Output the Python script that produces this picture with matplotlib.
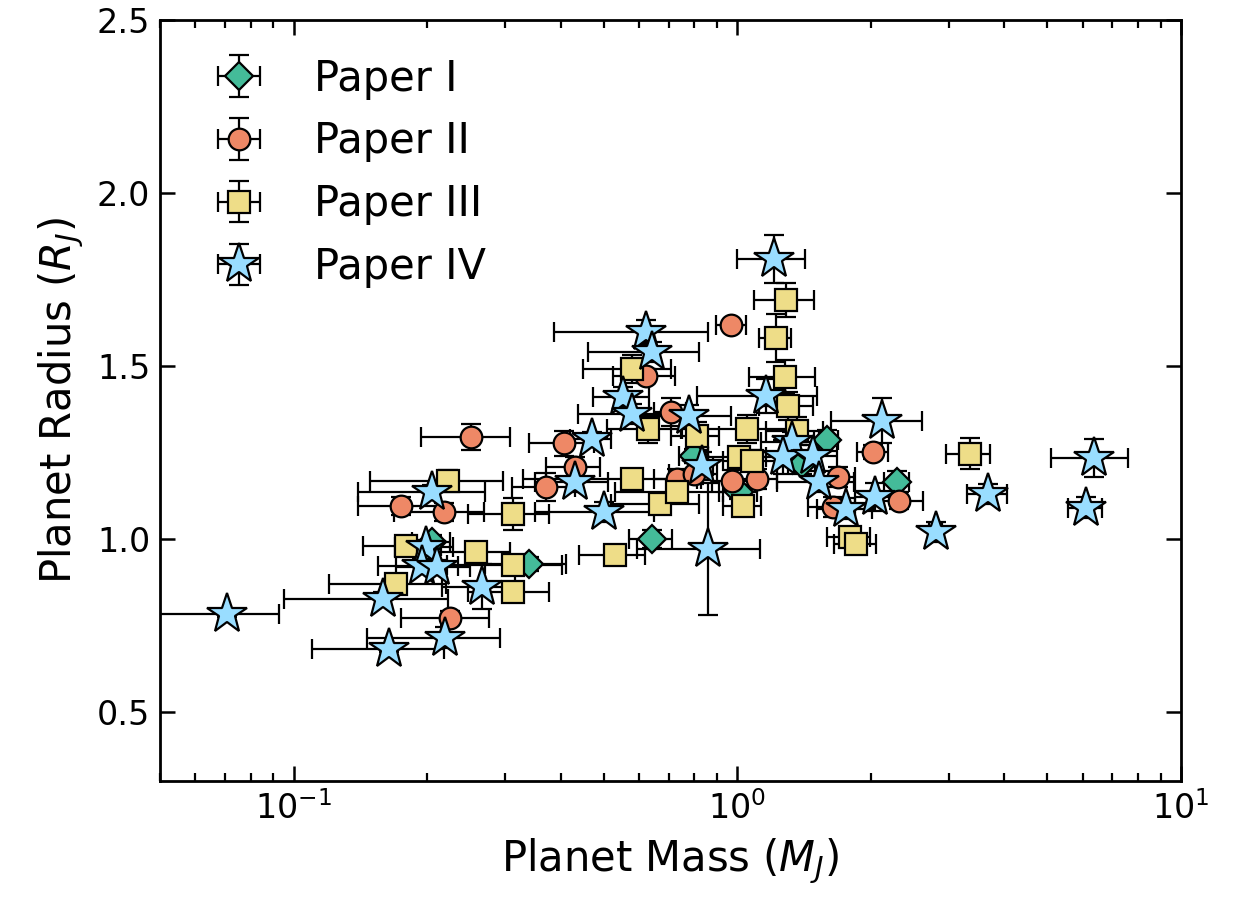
import matplotlib
matplotlib.use("Agg")
import matplotlib.pyplot as plt

# Paper I (diamonds)
p1_mass = [0.641, 0.34, 1.59, 2.29, 1.01, 0.80, 1.40, 0.205]
p1_mass_err = [0.07, 0.07, 0.10, 0.15, 0.10, 0.06, 0.10, 0.02]
p1_rad = [1.00, 0.928, 1.285, 1.165, 1.136, 1.24, 1.217, 0.99]
p1_rad_err = [0.025, 0.02, 0.03, 0.03, 0.02, 0.02, 0.03, 0.02]

# Paper II (circles)
p2_mass = [0.97, 0.624, 0.708, 0.251, 0.407, 0.43, 0.371, 0.175, 0.218, 0.225,
           0.73, 0.80, 0.975, 1.107, 1.69, 2.02, 2.32, 1.64]
p2_mass_err = [0.075, 0.10, 0.06, 0.057, 0.068, 0.06, 0.06, 0.035, 0.05, 0.05,
               0.08, 0.10, 0.10, 0.12, 0.15, 0.16, 0.30, 0.20]
p2_rad = [1.618, 1.471, 1.367, 1.295, 1.277, 1.208, 1.150, 1.095, 1.078, 0.772,
          1.173, 1.188, 1.168, 1.173, 1.179, 1.251, 1.110, 1.092]
p2_rad_err = [0.012, 0.02, 0.04, 0.037, 0.036, 0.03, 0.04, 0.025, 0.025, 0.02,
              0.03, 0.03, 0.03, 0.03, 0.03, 0.02, 0.025, 0.03]

# Paper III (squares)
p3_mass = [1.29, 1.22, 1.28, 1.30, 0.58, 0.628, 0.81, 1.05, 1.36, 1.01,
           1.08, 0.578, 0.223, 0.312, 0.668, 0.73, 1.03, 0.53, 0.312, 0.258,
           0.179, 0.17, 0.312, 1.79, 1.85, 3.34]
p3_mass_err = [0.20, 0.10, 0.22, 0.18, 0.13, 0.12, 0.10, 0.30, 0.20, 0.15,
               0.15, 0.25, 0.074, 0.065, 0.15, 0.20, 0.10, 0.09, 0.09, 0.05,
               0.036, 0.05, 0.065, 0.20, 0.20, 0.38]
p3_rad = [1.691, 1.581, 1.468, 1.384, 1.491, 1.318, 1.298, 1.318, 1.312, 1.237,
          1.226, 1.173, 1.168, 1.072, 1.101, 1.136, 1.095, 0.954, 0.925, 0.962,
          0.980, 0.870, 0.847, 1.005, 0.985, 1.246]
p3_rad_err = [0.05, 0.07, 0.05, 0.04, 0.04, 0.04, 0.04, 0.04, 0.04, 0.03,
              0.03, 0.03, 0.03, 0.045, 0.03, 0.03, 0.03, 0.02, 0.02, 0.02,
              0.02, 0.02, 0.02, 0.02, 0.02, 0.045]

# Paper IV (stars)
p4_mass = [0.0708, 0.164, 0.219, 0.159, 0.266, 0.199, 0.195, 0.21, 0.205, 0.43,
           0.47, 0.50, 0.622, 0.641, 0.552, 0.578, 0.78, 0.832, 0.859, 1.208,
           1.16, 1.33, 1.27, 1.48, 1.53, 1.76, 2.04, 2.12, 2.80, 3.68, 6.35, 6.1]
p4_mass_err = [0.022, 0.054, 0.073, 0.064, 0.05, 0.03, 0.04, 0.04, 0.065, 0.08,
               0.05, 0.15, 0.235, 0.18, 0.08, 0.14, 0.19, 0.05, 0.265, 0.21,
               0.35, 0.20, 0.25, 0.20, 0.30, 0.25, 0.20, 0.49, 0.10, 0.38, 1.25, 0.55]
p4_rad = [0.783, 0.682, 0.714, 0.827, 0.861, 0.977, 0.923, 0.919, 1.136, 1.165,
          1.289, 1.078, 1.598, 1.540, 1.410, 1.361, 1.356, 1.211, 0.971, 1.809,
          1.413, 1.280, 1.237, 1.240, 1.165, 1.087, 1.121, 1.341, 1.020, 1.130, 1.234, 1.090]
p4_rad_err = [0.01, 0.01, 0.03, 0.02, 0.065, 0.02, 0.02, 0.02, 0.02, 0.03,
              0.02, 0.03, 0.035, 0.03, 0.03, 0.03, 0.03, 0.04, 0.19, 0.07,
              0.05, 0.03, 0.05, 0.03, 0.03, 0.03, 0.04, 0.065, 0.03, 0.03, 0.055, 0.03]

fig = plt.figure(figsize=(6.175, 4.485), dpi=200)
ax = fig.add_axes([0.1296, 0.1293, 0.9563 - 0.1296, 0.9777 - 0.1293])

common = dict(linestyle='none', ecolor='k', elinewidth=0.8, capsize=3.5,
              capthick=0.8, markeredgecolor='k', markeredgewidth=0.8)

ax.errorbar(p1_mass, p1_rad, xerr=p1_mass_err, yerr=p1_rad_err, marker='D',
            markersize=7.2, color='#44BB99', label='Paper I', **common)
ax.errorbar(p2_mass, p2_rad, xerr=p2_mass_err, yerr=p2_rad_err, marker='o',
            markersize=7.8, color='#EE8866', label='Paper II', **common)
ax.errorbar(p3_mass, p3_rad, xerr=p3_mass_err, yerr=p3_rad_err, marker='s',
            markersize=7.6, color='#EEDD88', label='Paper III', **common)
ax.errorbar(p4_mass, p4_rad, xerr=p4_mass_err, yerr=p4_rad_err, marker='*',
            markersize=15, color='#99DDFF', label='Paper IV', **common)

ax.set_xscale('log')
ax.set_xlim(0.05, 10)
ax.set_ylim(0.3, 2.5)
ax.set_yticks([0.5, 1.0, 1.5, 2.0, 2.5])

ax.set_xlabel('Planet Mass ($M_J$)', fontsize=15)
ax.set_ylabel('Planet Radius ($R_J$)', fontsize=15)

ax.tick_params(which='both', direction='in', top=True, right=True, labelsize=12)
ax.tick_params(which='major', length=5.5, width=0.9)
ax.tick_params(which='minor', length=3, width=0.8)
for s in ax.spines.values():
    s.set_linewidth(1.0)

ax.legend(loc='upper left', frameon=False, fontsize=15)

fig.savefig('out.png', dpi=200)
